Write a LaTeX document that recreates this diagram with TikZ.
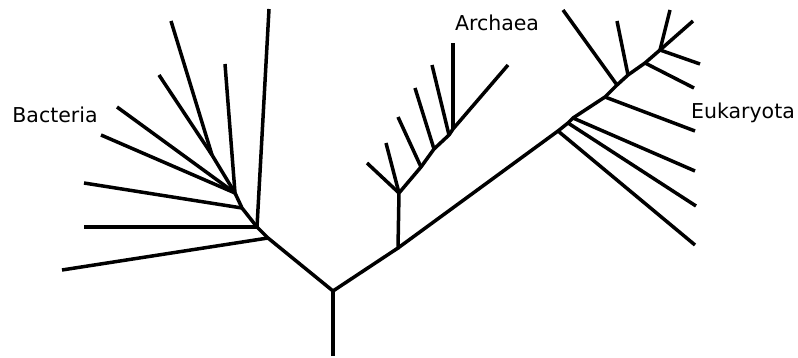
\documentclass[tikz,border=0pt]{standalone}
\usepackage{fontspec}
\setmainfont{DejaVu Sans}

\begin{document}
\begin{tikzpicture}[x=1pt, y=-1pt, line width=3.5pt, font=\fontsize{20.5}{21}\selectfont]
\useasboundingbox (0,0) rectangle (798,358);
% stem and root
\coordinate (base) at (333,356);
\coordinate (root) at (333,291);
\draw (base) -- (root);
% Bacteria trunk, then leaves as name/parent/x/y
\foreach \n/\x/\y in {b1/268/238, b2/257/227, b3/242/208, b4/235/193, b5/212/155}
  \coordinate (\n) at (\x,\y);
\draw (root) -- (b1) -- (b2) -- (b3) -- (b4) -- (b5);
\foreach \n/\p/\x/\y in {tb1/b1/62/270, tb2/b2/84/227, tb3/b2/269/9, tb4/b3/84/183,
    tb5/b4/101/135, tb6/b4/117/107, tb7/b4/225/64, tb8/b5/159/75, tb9/b5/171/21} {
  \coordinate (\n) at (\x,\y);
  \draw (\p) -- (\n);
}
% Archaea
\foreach \n/\x/\y in {a0/398/248, a1/399/193, a2/421/167, a3/434/149, a4/449/135,
    a5/453/129, ta/508/65}
  \coordinate (\n) at (\x,\y);
\draw (root) -- (a0) -- (a1) -- (a2) -- (a3) -- (a4) -- (a5) -- (ta);
\foreach \n/\p/\x/\y in {ta1/a1/367/163, ta2/a1/386/143, ta3/a2/398/117,
    ta4/a3/415/88, ta5/a4/432/65, ta6/a5/453/43} {
  \coordinate (\n) at (\x,\y);
  \draw (\p) -- (\n);
}
% Eukaryota
\foreach \n/\x/\y in {e1/558/131, e2/568/123, e3/573/118, e4/605/97, e5/617/85,
    e6/628/75, e7/645/63, e8/660/50}
  \coordinate (\n) at (\x,\y);
\draw (a0) -- (e1) -- (e2) -- (e3) -- (e4) -- (e5) -- (e6) -- (e7) -- (e8);
\foreach \n/\p/\x/\y in {te1/e1/695/245, te2/e2/696/206, te3/e3/695/171,
    te4/e4/695/131, te5/e5/563/10, te6/e6/617/21, te7/e7/694/88,
    te8/e8/700/64, te9/e8/693/21, te10/e8/670/10} {
  \coordinate (\n) at (\x,\y);
  \draw (\p) -- (\n);
}
% labels
\node (bacteria) at (55,115) {Bacteria};
\node (archaea) at (497,23) {Archaea};
\node (eukaryota) at (743,113) {Eukaryota};
\end{tikzpicture}
\end{document}
